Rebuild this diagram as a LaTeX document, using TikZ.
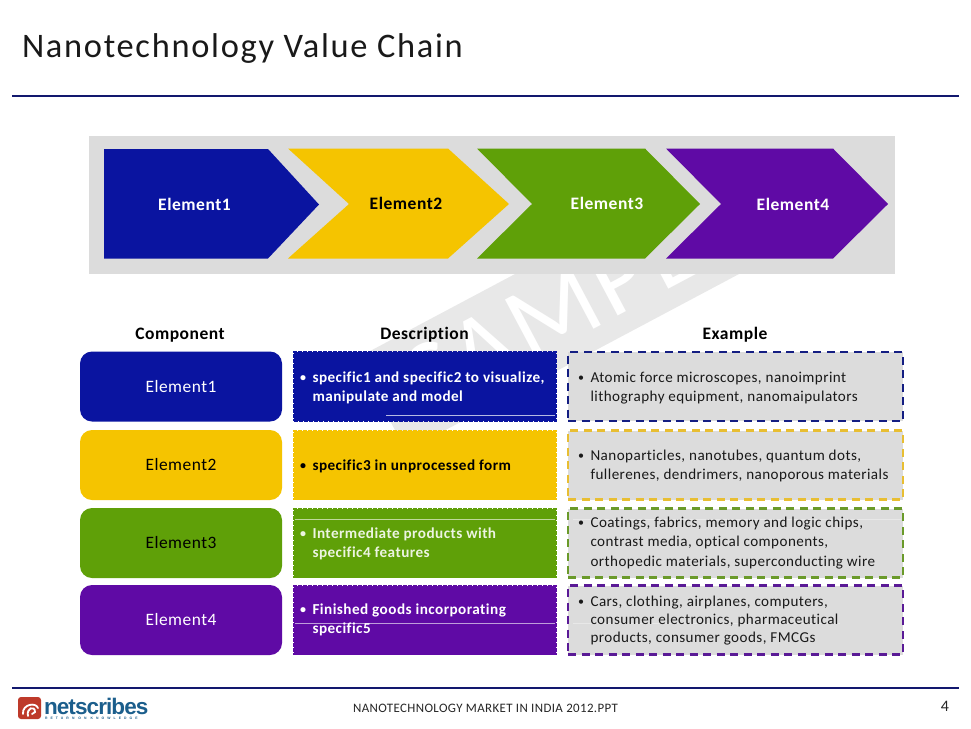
\documentclass[tikz,border=0pt]{standalone}
\usepackage{fontspec}
\setmainfont[LetterSpace=3,Ligatures=NoCommon]{Carlito}
\newfontfamily\logofont[LetterSpace=-4]{Liberation Sans}
\newfontfamily\tagfont[LetterSpace=90]{Liberation Sans}
\newfontfamily\titlefont[LetterSpace=5,Ligatures=NoCommon]{Carlito}
\definecolor{cnavy}{HTML}{0A14A0}
\definecolor{cyellow}{HTML}{F5C400}
\definecolor{cgreen}{HTML}{5FA008}
\definecolor{cpurple}{HTML}{5F0AA5}
\definecolor{cpanel}{HTML}{DCDCDC}
\definecolor{cband}{HTML}{E8E8E8}
\definecolor{crule}{HTML}{12186E}
\definecolor{dnavy}{HTML}{141E82}
\definecolor{dyellow}{HTML}{E8BE32}
\definecolor{dgreen}{HTML}{6A9A2A}
\definecolor{dpurple}{HTML}{5A1A96}
\definecolor{clogo}{HTML}{1B5E8C}
\definecolor{cred}{HTML}{BE3A2A}
\newcommand{\bul}{\makebox[12.5pt][l]{\raisebox{0.6pt}{\fontsize{12}{12}\selectfont •}}}
\newcommand{\ind}{\hspace*{12.5pt}}
\tikzset{
  x=1pt,y=-1pt,
  every node/.style={inner sep=0pt,outer sep=0pt},
  chevlabel/.style={font=\fontsize{17.5}{20}\selectfont\bfseries},
  head/.style={font=\fontsize{17.5}{20}\selectfont\bfseries,text=black,text height=12pt,text depth=4pt},
  rowbox/.style={rounded corners=12pt,minimum width=202pt,minimum height=70pt,font=\fontsize{17.4}{20}\selectfont},
  descbox/.style={minimum width=262pt,minimum height=69pt,dash pattern=on 4pt off 1pt,line width=1.5pt},
  exbox/.style={minimum width=335pt,minimum height=69pt,fill=cpanel,dash pattern=on 8pt off 5.5pt,line width=2.4pt},
  desctext/.style={anchor=west,align=left,font=\fontsize{15.2}{19.5}\selectfont\bfseries},
  extext/.style={anchor=west,align=left,text=black!90,font=\fontsize{15.1}{19.5}\selectfont},
  artefact/.style={line width=0.6pt},
}
\begin{document}
\begin{tikzpicture}
\useasboundingbox[fill=white] (0,0) rectangle (971,728);
% title and rules
\node[anchor=west,text=black!90,font=\fontsize{34.4}{38}\selectfont\titlefont] (title) at (22,48.5) {Nanotechnology Value Chain};
\draw[crule,line width=2pt] (12,96) -- (959,96);
\draw[crule,line width=2pt] (12,688) -- (959,688);
% watermark
\fill[cband] (357,358) -- (754,147) -- (803,240) -- (406,451) -- cycle;
\node[rotate=28,text=white,font=\fontsize{105}{110}\selectfont] (wm) at (573,302) {SAMPLE};
% panel
\fill[cpanel] (89,136) rectangle (895,274);
\fill[cnavy] (104,149) -- (268,149) -- (319,204.5) -- (268,258.5) -- (104,258.5) -- cycle;
\fill[cyellow] (288,148.5) -- (448,148.5) -- (509,204) -- (448,258.5) -- (288,258.5) -- (349,204) -- cycle;
\fill[cgreen] (477,148.5) -- (645,148.5) -- (700,204) -- (645,258.5) -- (477,258.5) -- (532,204) -- cycle;
\fill[cpurple] (666,148.5) -- (833,148.5) -- (888,204) -- (833,258.5) -- (666,258.5) -- (721,204) -- cycle;
\node[chevlabel,text=white] (c1) at (194.5,204.5) {Element1};
\node[chevlabel,text=black] (c2) at (406,203.5) {Element2};
\node[chevlabel,text=white] (c3) at (607,203.5) {Element3};
\node[chevlabel,text=white] (c4) at (793,204.5) {Element4};
% headers
\node[head] (h1) at (180,335.5) {Component};
\node[head] (h2) at (424.5,335.5) {Description};
\node[head] (h3) at (735,335.5) {Example};
% left column
\node[rowbox,fill=cnavy,text=white] (e1) at (181,386.5) {Element1};
\node[rowbox,fill=cyellow,text=black] (e2) at (181,465) {Element2};
\node[rowbox,fill=cgreen,text=black] (e3) at (181,543) {Element3};
\node[rowbox,fill=cpurple,text=white] (e4) at (181,620) {Element4};
% description boxes
\node[descbox,fill=cnavy,draw=cnavy] (d1) at (425,386.5) {};
\node[descbox,fill=cyellow,draw=cyellow] (d2) at (425,465) {};
\node[descbox,fill=cgreen,draw=cgreen] (d3) at (425,543) {};
\node[descbox,fill=cpurple,draw=cpurple] (d4) at (425,620) {};
\draw[artefact,white!70!cnavy] (386,415) -- (555,415);
\draw[artefact,white!60!cgreen] (295,519) -- (555,519);
\draw[artefact,white!60!cpurple] (295,623) -- (555,623);
\node[desctext,text=white] (dt1) at (300,388) {\bul specific1 and specific2 to visualize,\\\ind manipulate and model};
\node[desctext,text=black] (dt2) at (300,466) {\bul specific3 in unprocessed form};
\node[desctext,text=white!88!cgreen] (dt3) at (300,544) {\bul Intermediate products with\\\ind specific4 features};
\node[desctext,text=white] (dt4) at (300,620) {\bul Finished goods incorporating\\\ind specific5};
% example boxes
\node[exbox,draw=dnavy] (x1) at (735.5,386.5) {};
\node[exbox,draw=dyellow] (x2) at (735.5,465) {};
\node[exbox,draw=dgreen] (x3) at (735.5,543) {};
\node[exbox,draw=dpurple] (x4) at (735.5,620) {};
\draw[artefact,white!35!cpanel] (573,519) -- (901,519);
\draw[artefact,white!35!cpanel] (573,623) -- (840,623);
\node[extext] (xt1) at (578,388) {\bul Atomic force microscopes, nanoimprint\\\ind lithography equipment, nanomaipulators};
\node[extext] (xt2) at (578,466) {\bul Nanoparticles, nanotubes, quantum dots,\\\ind fullerenes, dendrimers, nanoporous materials};
\node[extext] (xt3) at (578,543) {\bul Coatings, fabrics, memory and logic chips,\\\ind contrast media, optical components,\\\ind orthopedic materials, superconducting wire};
\node[extext,font=\fontsize{15.1}{18}\selectfont] (xt4) at (578,620.5) {\bul Cars, clothing, airplanes, computers,\\\ind consumer electronics, pharmaceutical\\\ind products, consumer goods, FMCGs};
% footer
\node[text=black!85,font=\fontsize{12.9}{15}\selectfont] (foot) at (485.5,708.5) {NANOTECHNOLOGY MARKET IN INDIA 2012.PPT};
\node[text=black!85,font=\fontsize{16}{18}\selectfont] (page) at (945,706) {4};
% logo
\fill[cred,rounded corners=3pt] (18,697) rectangle (41,719);
\draw[white,line width=1.8pt,line cap=round] (23,714) .. controls (22,704) and (36,702) .. (38,708);
\draw[white,line width=1.8pt,line cap=round] (28,716) .. controls (26,708) and (35,705) .. (35,712) -- (32,714);
\node[anchor=west,text=clogo,font=\fontsize{22.5}{24}\selectfont\logofont\bfseries] (logo) at (44,706) {netscribes};
\node[anchor=west,text=clogo,font=\fontsize{3.4}{4}\selectfont\tagfont\bfseries] (tag) at (45,718.5) {RETURN ON KNOWLEDGE};
\end{tikzpicture}
\end{document}
